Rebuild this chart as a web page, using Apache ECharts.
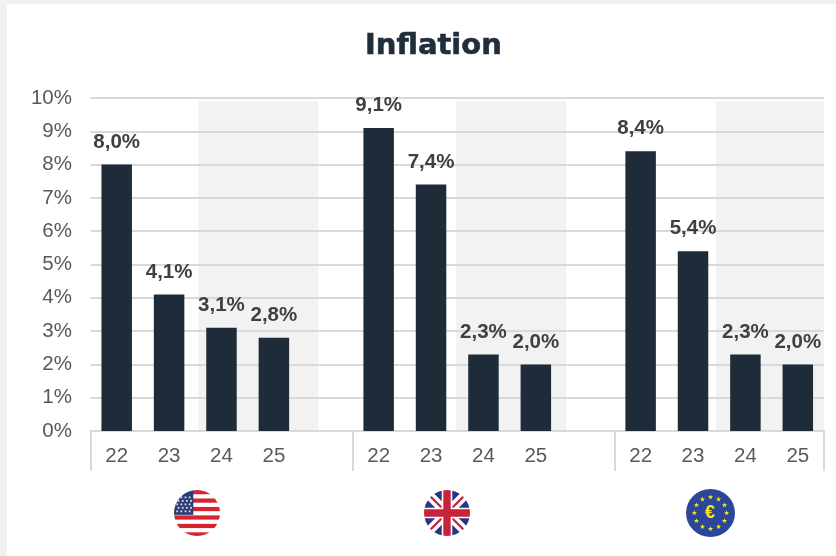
<!DOCTYPE html>
<html>
<head>
<meta charset="utf-8">
<script src="https://cdn.jsdelivr.net/npm/echarts@6/dist/echarts.min.js"></script>
<style>
html, body { margin: 0; padding: 0; background: #f1f1f1; }
#main { position: absolute; left: 7px; top: 4px; width: 829px; height: 552px; background: #fff; }
</style>
</head>
<body>
<div id="main"></div>
<script>
const categories = ['22', '23', '24', '25', '', '22', '23', '24', '25', '', '22', '23', '24', '25']
const inflation = [8.0, 4.1, 3.1, 2.8, null, 9.1, 7.4, 2.3, 2.0, null, 8.4, 5.4, 2.3, 2.0]
const yTicks = [0, 1, 2, 3, 4, 5, 6, 7, 8, 9, 10]
// forecast shading, in category units along the axis
const shadeFrom = [2.06, 6.98, 11.94]
const shadeTo = [4.35, 9.08, 14]
const shadeTop = 9.9

function svgUri(body) {
    return 'data:image/svg+xml;charset=utf-8,' + encodeURIComponent(
        '<svg xmlns="http://www.w3.org/2000/svg" width="100" height="100" viewBox="0 0 100 100">' +
        '<defs><clipPath id="c"><circle cx="50" cy="50" r="50"/></clipPath>' +
        '<filter id="b" x="-10%" y="-10%" width="120%" height="120%"><feGaussianBlur stdDeviation="0.7"/></filter></defs>' +
        '<g clip-path="url(#c)"><g filter="url(#b)">' + body + '</g></g></svg>')
}

function usFlag() {
    let s = '<rect width="100" height="100" fill="#fff"/>'
    for (let i = 0; i < 6; i++) {
        s += '<rect x="0" y="' + (i * 18.4) + '" width="100" height="9.2" fill="#d8232f"/>'
    }
    s += '<rect width="42" height="54" fill="#2b3a78"/>'
    for (let r = 0; r < 5; r++) {
        for (let c = 0; c < 4; c++) {
            s += '<rect x="' + (5 + c * 9 + (r % 2) * 3) + '" y="' + (14 + r * 7.6) + '" width="4" height="4" fill="#d9dbe8"/>'
        }
    }
    return svgUri(s)
}

function ukFlag() {
    return svgUri(
        '<rect width="100" height="100" fill="#2b3580"/>' +
        '<path d="M0 0L100 100M100 0L0 100" stroke="#fff" stroke-width="20"/>' +
        '<path d="M0 0L100 100M100 0L0 100" stroke="#c8203c" stroke-width="5"/>' +
        '<path d="M50 0V100M0 50H100" stroke="#fff" stroke-width="23"/>' +
        '<path d="M50 0V100M0 50H100" stroke="#c8203c" stroke-width="16"/>')
}

function euFlag() {
    let s = '<rect width="100" height="100" fill="#2a469c"/>'
    for (let i = 0; i < 12; i++) {
        let a = i * Math.PI / 6
        let cx = 50 + 33 * Math.sin(a)
        let cy = 50 - 33 * Math.cos(a)
        let pts = []
        for (let k = 0; k < 10; k++) {
            let rr = k % 2 ? 2.3 : 5.6
            let b = k * Math.PI / 5
            pts.push((cx + rr * Math.sin(b)).toFixed(2) + ',' + (cy - rr * Math.cos(b)).toFixed(2))
        }
        s += '<polygon points="' + pts.join(' ') + '" fill="#fde910"/>'
    }
    return svgUri(s)
}

let myChart = echarts.init(document.getElementById('main'), null, { renderer: 'canvas' })

let option = {
    animation: false,
    textStyle: { fontFamily: 'Liberation Sans' },
    title: {
        text: 'Inflation',
        left: 358,
        top: 28,
        padding: 0,
        textStyle: {
            fontFamily: 'DejaVu Sans',
            fontWeight: 'bold',
            fontSize: 29,
            color: '#1f2d3d',
            textBorderColor: '#1f2d3d',
            textBorderWidth: 0.6
        }
    },
    grid: { left: 83.5, right: 12, top: 94, bottom: 125 },
    xAxis: [{
        type: 'category',
        data: categories,
        axisLine: { lineStyle: { color: '#d9d9d9', width: 2 } },
        axisTick: {
            show: true,
            length: 40,
            interval: (index) => index % 5 === 0,
            lineStyle: { color: '#d9d9d9', width: 2 }
        },
        axisLabel: { interval: 0, fontSize: 20.5, color: '#595959', margin: 15 }
    }, {
        type: 'value',
        min: 0,
        max: 14,
        show: false
    }],
    yAxis: {
        type: 'value',
        min: 0,
        max: 10,
        interval: 1,
        axisLine: { show: false },
        axisTick: { show: false },
        axisLabel: { fontSize: 20.5, color: '#595959', margin: 18.5, formatter: (v) => yTicks[v] + '%' },
        splitLine: { lineStyle: { color: '#d9d9d9', width: 2 } }
    },
    series: [{
        type: 'custom',
        xAxisIndex: 1,
        z: -1,
        silent: true,
        data: shadeFrom.map((v, i) => [v, shadeTo[i], shadeTop]),
        encode: { x: [0, 1], y: 2 },
        renderItem: (params, api) => {
            let a = api.coord([api.value(0), api.value(2)])
            let b = api.coord([api.value(1), 0])
            return { type: 'rect', shape: { x: a[0], y: a[1], width: b[0] - a[0], height: b[1] - a[1] }, style: { fill: '#f2f2f2' } }
        }
    }, {
        type: 'bar',
        data: inflation,
        barWidth: 30.5,
        itemStyle: { color: '#1e2c3a' },
        label: {
            show: true,
            position: 'top',
            distance: 12,
            fontSize: 20.5,
            fontWeight: 'bold',
            color: '#404040',
            formatter: (p) => p.value.toFixed(1).replace('.', ',') + '%'
        }
    }],
    graphic: [
        { type: 'image', left: 167, top: 486, style: { image: usFlag(), width: 46, height: 46 } },
        { type: 'image', left: 417, top: 486, style: { image: ukFlag(), width: 46, height: 46 } },
        { type: 'image', left: 679, top: 485, style: { image: euFlag(), width: 49, height: 48 } },
        { type: 'text', left: 698, top: 500, z: 10, style: { text: '€', fill: '#fde910', font: 'bold 18px "Liberation Sans"' } }
    ]
}
myChart.setOption(option)
</script>
</body>
</html>
